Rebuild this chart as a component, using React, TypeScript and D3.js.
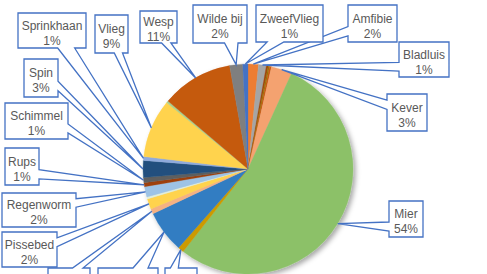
import { useEffect, useRef } from "react";
import * as d3 from "d3";

// slices in clockwise order from 12 o'clock (share in %)
const categories = [
  "Amfibie", "Bladluis", "Duizendpoot", "Hooiwagen", "Kakkerlak", "Kever",
  "Mier", "Mug", "Naaktslak", "Oorworm", "Pissebed", "Pseudoschorpioen",
  "Regenworm", "Rups", "Schimmel", "Spin", "Sprinkhaan", "Vlieg",
  "Vlinder", "Wesp", "Wilde bij", "ZweefVlieg",
];
const values = [
  1.6, 1.2, 0.3, 0.2, 0.3, 3.2,
  53.8, 0.9, 6.5, 0.8, 1.6, 0.3,
  1.6, 0.6, 0.8, 2.6, 0.6, 9.0,
  0.3, 11.0, 2.0, 0.8,
];
const colors = [
  "#ED7D31", "#A5A5A5", "#9E480E", "#997300", "#C55A11", "#F4A270",
  "#8CC168", "#CC9A00", "#327DC2", "#F4B183", "#FFD34D", "#E2EFDA",
  "#9DC3E6", "#9E3F0A", "#5E5E5E", "#22507E", "#8FAADC", "#FFD34D",
  "#A9D18E", "#C55A11", "#7F7F7F", "#4472C4",
];

// label boxes placed by hand (x, y, w, h)
const labelBoxes: Record<string, [number, number, number, number]> = {
  "Amfibie": [348, 5, 49, 37],
  "Bladluis": [399, 42, 50, 35],
  "Kever": [387, 94, 40, 37],
  "Mier": [389, 201, 34, 36],
  "Mug": [165, 268, 32, 36],
  "Naaktslak": [98, 268, 60, 36],
  "Oorworm": [48, 268, 42, 36],
  "Pissebed": [2, 232, 55, 35],
  "Regenworm": [2, 193, 74, 34],
  "Rups": [5, 148, 34, 37],
  "Schimmel": [5, 103, 63, 36],
  "Spin": [24, 59, 34, 38],
  "Sprinkhaan": [18, 13, 68, 35],
  "Vlieg": [95, 15, 33, 38],
  "Wesp": [140, 11, 37, 32],
  "Wilde bij": [193, 5, 54, 38],
  "ZweefVlieg": [256, 5, 67, 37],
};

// excel style wedge callout
function callout(x: number, y: number, w: number, h: number, tx: number, ty: number) {
  const hc = x + w / 2, vc = y + h / 2;
  const dx = tx - hc, dy = ty - vc;
  const dz = Math.abs(dy) - Math.abs(dx * h / w);
  const x1 = x + w * (dx > 0 ? 7 : 2) / 12;
  const x2 = x + w * (dx > 0 ? 10 : 5) / 12;
  const y1 = y + h * (dy > 0 ? 7 : 2) / 12;
  const y2 = y + h * (dy > 0 ? 10 : 5) / 12;
  const r = x + w, b = y + h;
  let p = `M${x},${y}`;
  if (dz > 0 && dy < 0) p += `L${x1},${y}L${tx},${ty}L${x2},${y}`;
  p += `L${r},${y}`;
  if (dz <= 0 && dx > 0) p += `L${r},${y1}L${tx},${ty}L${r},${y2}`;
  p += `L${r},${b}`;
  if (dz > 0 && dy > 0) p += `L${x2},${b}L${tx},${ty}L${x1},${b}`;
  p += `L${x},${b}`;
  if (dz <= 0 && dx < 0) p += `L${x},${y2}L${tx},${ty}L${x},${y1}`;
  return p + "Z";
}

export default function App() {
  const ref = useRef<SVGSVGElement>(null);

  useEffect(() => {
    const svg = d3.select(ref.current);
    svg.selectAll("*").remove();

    const width = 487, height = 274;
    const cx = 248, cy = 169, radius = 105;
    const data = categories.map((c, i) => ({ name: c, value: values[i], color: colors[i] }));
    const total = d3.sum(values);

    const defs = svg.append("defs");
    const f = defs.append("filter").attr("id", "shadow")
      .attr("x", "-20%").attr("y", "-20%").attr("width", "140%").attr("height", "140%");
    f.append("feDropShadow").attr("dx", 2.5).attr("dy", 2.5)
      .attr("stdDeviation", 2.5).attr("flood-color", "#000").attr("flood-opacity", 0.35);

    svg.append("rect").attr("width", width).attr("height", height).attr("fill", "#fff");

    const pie = d3.pie<any>().value(d => d.value).sort(null);
    const arc = d3.arc<any>().innerRadius(0).outerRadius(radius);
    const arcs = pie(data);

    const g = svg.append("g")
      .attr("transform", `translate(${cx},${cy})`)
      .attr("filter", "url(#shadow)");
    g.selectAll("path")
      .data(arcs)
      .enter()
      .append("path")
      .attr("d", arc)
      .attr("fill", d => d.data.color)
      .attr("stroke", d => d.data.color)
      .attr("stroke-width", 0.3);

    const labels = svg.append("g");
    arcs.forEach(a => {
      const box = labelBoxes[a.data.name];
      const pct = Math.round(a.data.value / total * 100);
      if (!box || pct < 1) return;
      const mid = (a.startAngle + a.endAngle) / 2;
      const tx = cx + radius * Math.sin(mid);
      const ty = cy - radius * Math.cos(mid);
      const [x, y, w, h] = box;
      labels.append("path")
        .attr("d", callout(x, y, w, h, tx, ty))
        .attr("fill", "#fff")
        .attr("stroke", "#4472C4")
        .attr("stroke-width", 1.3)
        .attr("stroke-linejoin", "miter");
      const t = labels.append("text")
        .attr("text-anchor", "middle")
        .attr("font-family", "Liberation Sans, Arial, sans-serif")
        .attr("font-size", 12)
        .attr("fill", "#595959");
      t.append("tspan").attr("x", x + w / 2).attr("y", y + h / 2 - 1).text(a.data.name);
      t.append("tspan").attr("x", x + w / 2).attr("y", y + h / 2 + 14).text(pct + "%");
    });
  }, []);

  return (
    <svg ref={ref} width={487} height={274}
      style={{ position: "absolute", left: 0, top: 0 }} />
  );
}
